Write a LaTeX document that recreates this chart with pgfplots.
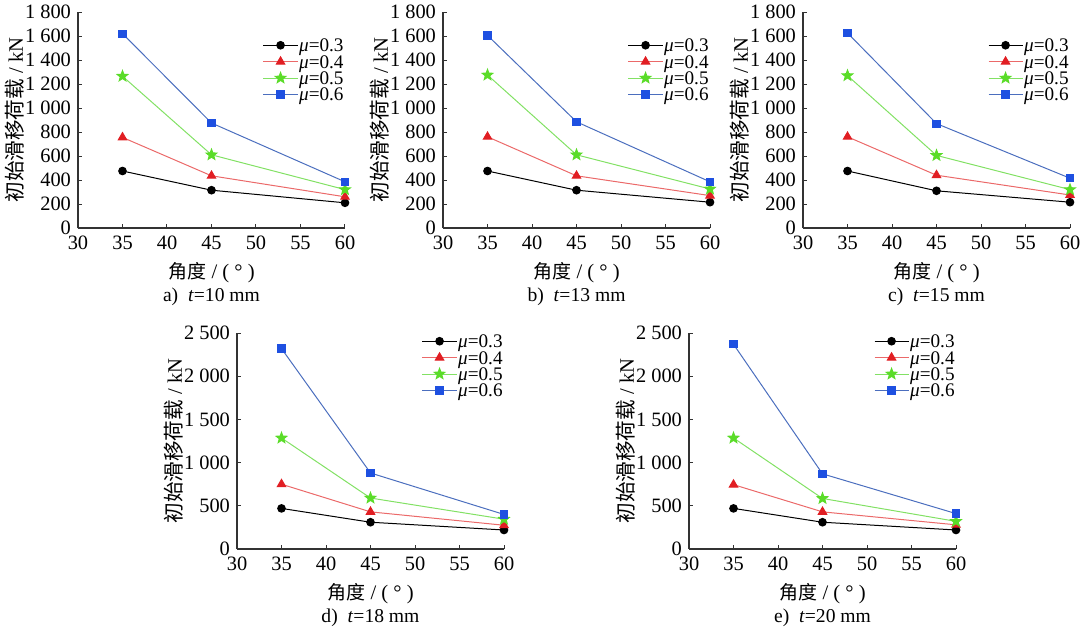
\documentclass[border=0pt]{standalone}
\usepackage{pgfplots}
\pgfplotsset{compat=1.18}
\usetikzlibrary{plotmarks}
\usepackage{fontspec}
\setmainfont{Liberation Serif}
\newfontfamily\tnr{Liberation Serif}
\newfontfamily\cjk{Noto Sans CJK SC}
\definecolor{lred}{RGB}{235,105,105}
\definecolor{mred}{RGB}{225,30,35}
\definecolor{lgreen}{RGB}{130,225,100}
\definecolor{mgreen}{RGB}{90,220,40}
\definecolor{lblue}{RGB}{75,110,190}
\definecolor{mblue}{RGB}{30,80,225}
\pgfdeclareplotmark{fstar}{%
 \pgfpathmoveto{\pgfpointpolar{90}{\pgfplotmarksize}}%
 \pgfpathlineto{\pgfpointpolar{126}{0.42\pgfplotmarksize}}%
 \pgfpathlineto{\pgfpointpolar{162}{\pgfplotmarksize}}%
 \pgfpathlineto{\pgfpointpolar{198}{0.42\pgfplotmarksize}}%
 \pgfpathlineto{\pgfpointpolar{234}{\pgfplotmarksize}}%
 \pgfpathlineto{\pgfpointpolar{270}{0.42\pgfplotmarksize}}%
 \pgfpathlineto{\pgfpointpolar{306}{\pgfplotmarksize}}%
 \pgfpathlineto{\pgfpointpolar{342}{0.42\pgfplotmarksize}}%
 \pgfpathlineto{\pgfpointpolar{18}{\pgfplotmarksize}}%
 \pgfpathlineto{\pgfpointpolar{54}{0.42\pgfplotmarksize}}%
 \pgfpathclose
 \pgfusepathqfillstroke}
\pgfplotsset{
  panel/.style={
    scale only axis, width=133.5pt, height=108pt,
    axis lines=left, axis line style={black!80, line width=0.6pt, -},
    xmin=30, xmax=60, xtick={30,35,...,60},
    ymin=0,
    tick align=inside, major tick length=2pt,
    tick style={black!80, line width=0.5pt},
    /pgf/number format/assume math mode=true,
    /pgf/number format/1000 sep={\ },
    tick label style={font=\tnr\fontsize{10.2}{11}\selectfont},
    xticklabel style={yshift=-0.5pt},
    xlabel={{\cjk\fontsize{9.5}{11}\selectfont 角度} / (\ °\ )},
    ylabel={{\cjk 初始滑移荷载} / kN},
    label style={font=\tnr\fontsize{10.3}{12}\selectfont},
    xlabel style={at={(axis description cs:0.5,-0.206)}, anchor=center},
    ylabel style={at={(axis description cs:-0.236,0.5)}, anchor=center},
    legend cell align=left,
    legend style={draw=none, fill=none, font=\tnr\fontsize{9.6}{10}\selectfont,
      inner sep=0pt, row sep=0.4pt,
      nodes={inner sep=0.5pt, text height=6.6pt, text depth=0.2pt}},
    clip=false,
  },
  s3/.style={black, line width=0.5pt, mark=*, mark size=1.9pt, mark options={fill=black}},
  s4/.style={lred, line width=0.5pt, mark=triangle*, mark size=2.4pt, mark options={fill=mred, draw=mred}},
  s5/.style={lgreen, line width=0.5pt, mark=fstar, mark size=2.8pt, mark options={fill=mgreen, draw=mgreen}},
  s6/.style={lblue, line width=0.5pt, mark=square*, mark size=1.8pt, mark options={fill=mblue, draw=mblue}},
  top/.style={panel, ymax=1800, ytick={0,200,...,1800},
    legend style={at={(1,0.884)}, anchor=north east}},
  bot/.style={panel, ymax=2500, ytick={0,500,...,2500},
    legend style={at={(1,1.0)}, anchor=north east}},
}
\newcommand{\leg}{\legend{\textit{μ}=0.3,\textit{μ}=0.4,\textit{μ}=0.5,\textit{μ}=0.6}}
\newcommand{\capt}[1]{node[font=\tnr\fontsize{9.8}{11}\selectfont] {#1}}
\begin{document}
\begin{tikzpicture}
\useasboundingbox (0,0) rectangle (540pt,314.5pt);
% a
\begin{axis}[top, name=a, at={(39pt,200.5pt)}, anchor=south west]
\addplot[s3] coordinates {(35,475) (45,315) (60,210)};
\addplot[s4] coordinates {(35,755) (45,435) (60,260)};
\addplot[s5] coordinates {(35,1265) (45,610) (60,320)};
\addplot[s6] coordinates {(35,1620) (45,875) (60,385)};
\leg
\end{axis}
\path (a.south) ++(0,-34.25pt) \capt{a)\ \ \textit{t}=10 mm};
% b
\begin{axis}[top, name=b, at={(221.5pt,200.5pt)}, anchor=south west]
\addplot[s3] coordinates {(35,475) (45,315) (60,215)};
\addplot[s4] coordinates {(35,760) (45,435) (60,270)};
\addplot[s5] coordinates {(35,1275) (45,610) (60,325)};
\addplot[s6] coordinates {(35,1605) (45,885) (60,385)};
\leg
\end{axis}
\path (b.south) ++(0,-34.25pt) \capt{b)\ \ \textit{t}=13 mm};
% c
\begin{axis}[top, name=c, at={(401.5pt,200.5pt)}, anchor=south west]
\addplot[s3] coordinates {(35,475) (45,310) (60,215)};
\addplot[s4] coordinates {(35,760) (45,440) (60,275)};
\addplot[s5] coordinates {(35,1270) (45,605) (60,320)};
\addplot[s6] coordinates {(35,1625) (45,870) (60,415)};
\leg
\end{axis}
\path (c.south) ++(0,-34.25pt) \capt{c)\ \ \textit{t}=15 mm};
% d
\begin{axis}[bot, name=d, at={(118.5pt,40pt)}, anchor=south west]
\addplot[s3] coordinates {(35,470) (45,310) (60,220)};
\addplot[s4] coordinates {(35,750) (45,430) (60,275)};
\addplot[s5] coordinates {(35,1285) (45,590) (60,345)};
\addplot[s6] coordinates {(35,2320) (45,880) (60,400)};
\leg
\end{axis}
\path (d.south) ++(0,-34.25pt) \capt{d)\ \ \textit{t}=18 mm};
% e
\begin{axis}[bot, name=e, at={(344.5pt,40pt)}, anchor=south west]
\addplot[s3] coordinates {(35,470) (45,310) (60,220)};
\addplot[s4] coordinates {(35,745) (45,430) (60,280)};
\addplot[s5] coordinates {(35,1285) (45,585) (60,320)};
\addplot[s6] coordinates {(35,2370) (45,870) (60,410)};
\leg
\end{axis}
\path (e.south) ++(0,-34.25pt) \capt{e)\ \ \textit{t}=20 mm};
\end{tikzpicture}
\end{document}
